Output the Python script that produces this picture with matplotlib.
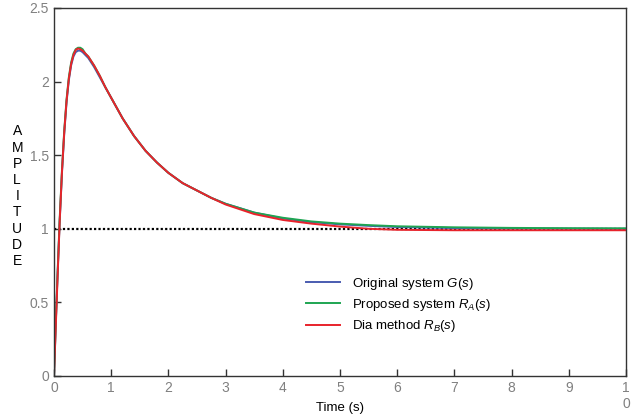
import matplotlib
matplotlib.use("Agg")
import matplotlib.pyplot as plt

# step responses
t = [0, 0.03, 0.06, 0.1, 0.14, 0.18, 0.22, 0.26, 0.3, 0.34, 0.38, 0.42, 0.46,
     0.5, 0.55, 0.6, 0.7, 0.8, 0.9, 1.0, 1.1, 1.2, 1.3, 1.4, 1.5, 1.6, 1.8,
     2.0, 2.25, 2.5, 2.75, 3.0, 3.5, 4.0, 4.5, 5.0, 5.5, 6.0, 7.0, 8.0, 9.0, 10.0]
y_orig = [0, 0.34, 0.66, 1.05, 1.38, 1.65, 1.86, 2.01, 2.11, 2.17, 2.20, 2.21, 2.21,
          2.20, 2.18, 2.16, 2.10, 2.03, 1.96, 1.89, 1.82, 1.75, 1.69, 1.63, 1.58, 1.53, 1.45,
          1.38, 1.31, 1.26, 1.21, 1.17, 1.11, 1.07, 1.045, 1.03, 1.02,
          1.012, 1.005, 1.002, 1.001, 1.0]
y_ra = [0, 0.35, 0.67, 1.07, 1.40, 1.67, 1.88, 2.03, 2.13, 2.19, 2.22, 2.23, 2.23,
        2.22, 2.19, 2.17, 2.11, 2.04, 1.96, 1.89, 1.82, 1.75, 1.69, 1.63, 1.58, 1.53, 1.45,
        1.38, 1.31, 1.26, 1.21, 1.17, 1.11, 1.075, 1.05, 1.035, 1.025,
        1.017, 1.01, 1.006, 1.004, 1.003]
y_rb = [0, 0.32, 0.64, 1.05, 1.39, 1.66, 1.87, 2.02, 2.12, 2.18, 2.215, 2.225, 2.22,
        2.21, 2.19, 2.17, 2.11, 2.04, 1.96, 1.89, 1.82, 1.75, 1.69, 1.63, 1.58, 1.53, 1.45,
        1.38, 1.31, 1.26, 1.21, 1.165, 1.10, 1.06, 1.035, 1.015, 1.0,
        0.993, 0.99, 0.99, 0.99, 0.99]
xticks = list(range(11))
xtick_labels = [str(i) for i in range(10)] + ["1\n0"]
yticks = [0, 0.5, 1, 1.5, 2, 2.5]
ytick_labels = ["0", "0.5", "1", "1.5", "2", "2.5"]

plt.rcParams["font.family"] = ["Liberation Sans", "DejaVu Sans"]
plt.rcParams["mathtext.fontset"] = "custom"
plt.rcParams["mathtext.it"] = "Liberation Sans:italic"
plt.rcParams["mathtext.rm"] = "Liberation Sans"

fig = plt.figure(figsize=(6.38, 4.2), dpi=100)
ax = fig.add_axes([0.0846, 0.1048, 0.8966, 0.8762])

ax.plot([0, 10], [1, 1], color="black", linestyle=(0, (1, 1)), lw=1.6)
ax.plot(t, y_orig, color="#4a5cb0", lw=1.4, label=r"Original system $G(s)$")
ax.plot(t, y_ra, color="#1ea552", lw=1.4, label=r"Proposed system $R_A(s)$")
ax.plot(t, y_rb, color="#e8232b", lw=1.4, label=r"Dia method $R_B(s)$")

ax.set_xlim(0, 10)
ax.set_ylim(0, 2.5)
ax.set_xticks(xticks)
ax.set_xticklabels(xtick_labels, va="top")
ax.set_yticks(yticks)
ax.set_yticklabels(ytick_labels)
ax.tick_params(direction="in", length=5, width=1, colors="#333333",
               labelcolor="#808080", labelsize=10, top=False, right=False)
for sp in ax.spines.values():
    sp.set_color("#333333")
    sp.set_linewidth(1)

fig.text(0.533, 0.028, "Time (s)", ha="center", va="center", fontsize=9.5)
fig.text(0.027, 0.533, "\n".join("AMPLITUDE"), ha="center", va="center",
         fontsize=10, linespacing=1.2)

ax.legend(loc="upper left", bbox_to_anchor=(0.42, 0.305), frameon=False,
          fontsize=9.5, handlelength=2.6, handletextpad=0.9, labelspacing=0.4)

fig.savefig("out.png", dpi=100)
